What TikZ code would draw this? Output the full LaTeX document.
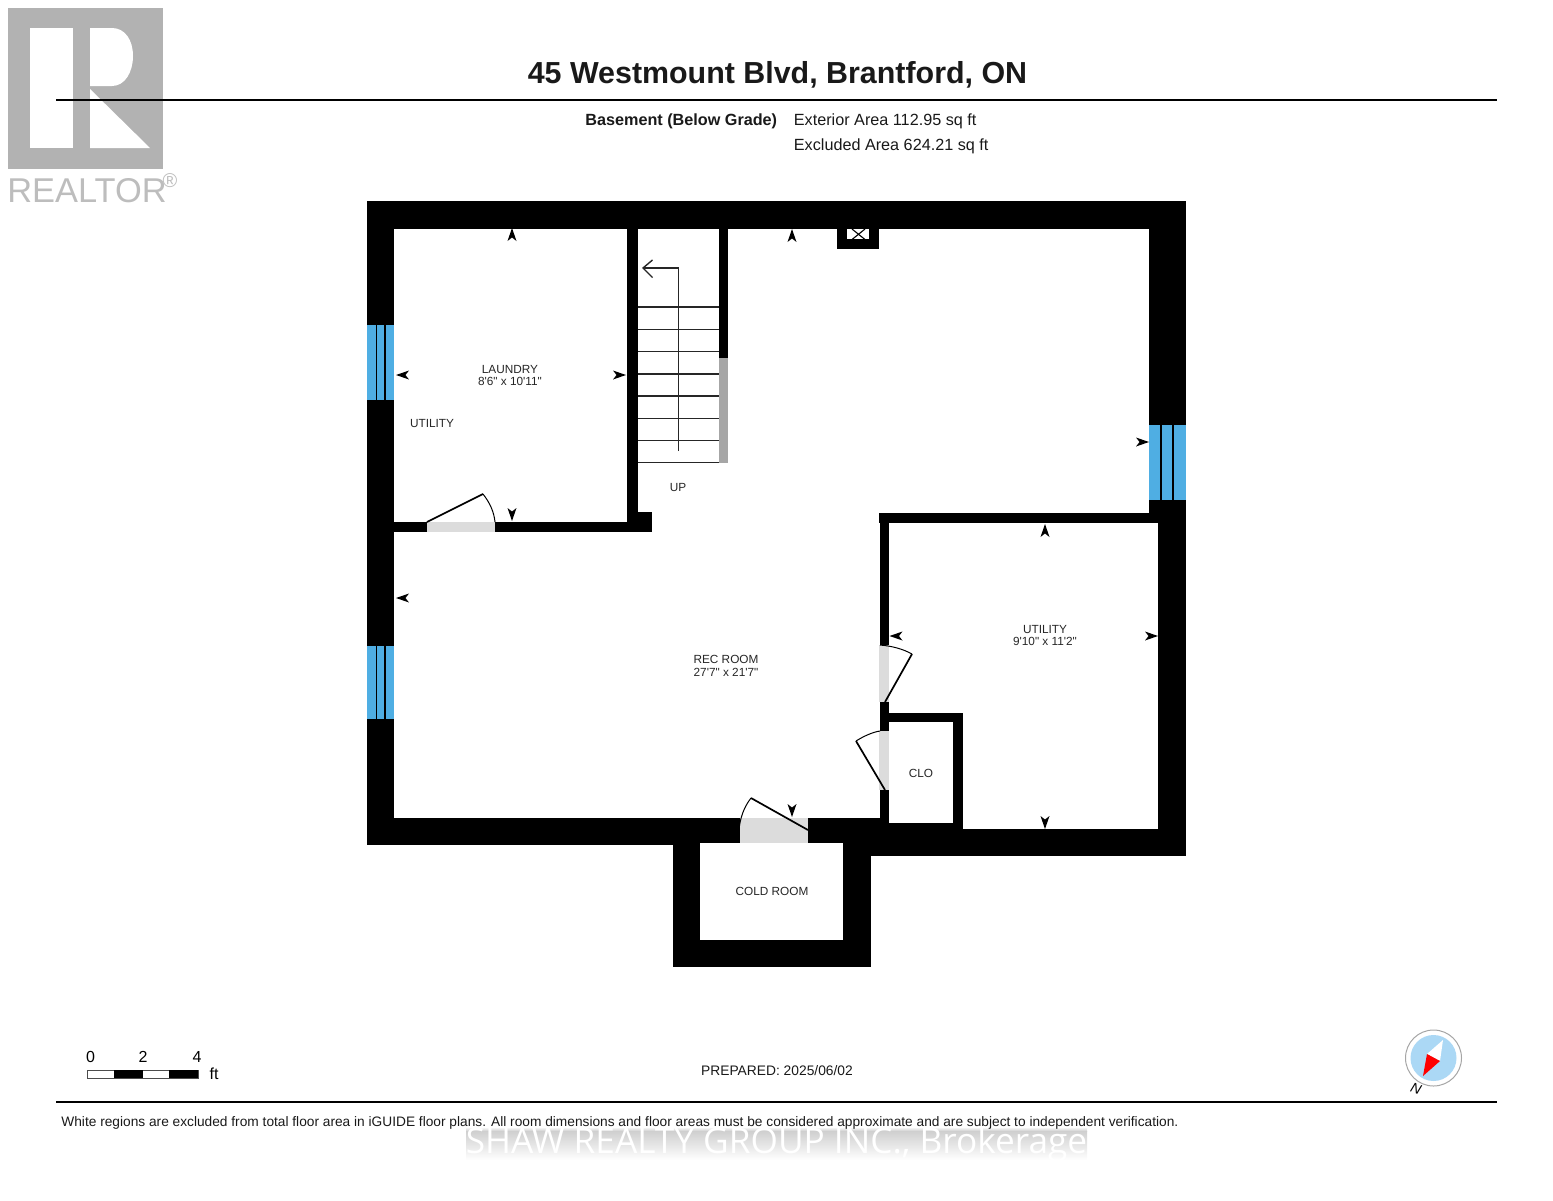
\documentclass[tikz,border=0pt]{standalone}
\usepackage{fontspec}
\setmainfont[Ligatures=TeXOff]{Liberation Sans}
\newfontfamily\wmfont{Open Sans}
\definecolor{winblue}{HTML}{4FAEE3}
\definecolor{doorgrey}{HTML}{DCDCDC}
\definecolor{stairgrey}{HTML}{A6A6A6}
\definecolor{logogrey}{HTML}{B2B2B2}
\definecolor{compassblue}{HTML}{ABD8F5}
\definecolor{wmgrey}{HTML}{CFCFCF}
\newcommand{\winpaneV}[6]{%
  \fill[winblue] (#1,#2) rectangle (#3,#4);
  \draw[thinline] (#5,#2) -- (#5,#4);
  \draw[thinline] (#6,#2) -- (#6,#4);%
}
\newcommand{\dimtick}[3]{%
  \fill[black,shift={(#1,#2)},rotate=#3] (0,0) -- (-13,4.5) -- (-9.5,0) -- (-13,-4.5) -- cycle;%
}
\tikzset{
  x=0.5pt,y=-0.5pt,
  wall/.style={fill=black,draw=none},
  thinline/.style={draw=black,line width=0.55pt},
  stairline/.style={draw=black!85,line width=0.7pt},
  doorleaf/.style={draw=black,line width=0.85pt},
  doorarc/.style={draw=black,line width=0.5pt},
  rule/.style={draw=black,line width=1.4pt},
  room/.style={inner sep=0pt,font=\fontsize{5.9}{6.4}\selectfont,align=center,text=black!85},
  info/.style={inner sep=0pt,font=\fontsize{8.1}{9}\selectfont,anchor=base west,text=black!90},
}
\begin{document}
\begin{tikzpicture}
\useasboundingbox (0,0) rectangle (1553,1200);
% logo
\fill[logogrey] (8,8) rectangle (163,169);
\fill[white] (30,28) rectangle (73,148);
\fill[white] (90,28) -- (112,28) .. controls (125,28) and (133,40) .. (133,56) .. controls (133,72) and (125,86) .. (112,86) -- (90,86) -- cycle;
\fill[white] (90,89) -- (150,148) -- (90,148) -- cycle;
\node[inner sep=0pt,text=logogrey!85,font=\fontsize{17.2}{18}\selectfont] (logotext) at (87,191) {REALTOR};
\node[inner sep=0pt,text=logogrey!85,font=\fontsize{10}{10}\selectfont] (logoreg) at (170,181) {®};
% header
\draw[rule] (56,100) -- (1497,100);
\node[inner sep=0pt,font=\bfseries\fontsize{15.2}{17}\selectfont,text=black!90] (title) at (777.5,75) {45 Westmount Blvd, Brantford, ON};
\node[inner sep=0pt,font=\bfseries\fontsize{8.1}{9}\selectfont,anchor=base west,text=black!90] (floor) at (585,125.5) {Basement (Below Grade)};
\node[info] (ext) at (793.5,125.5) {Exterior Area 112.95 sq ft};
\node[info] (excl) at (793.5,150.5) {Excluded Area 624.21 sq ft};
% outer walls
\fill[wall] (367,201) rectangle (1186,229);
\fill[wall] (367,201) rectangle (394,845);
\fill[wall] (367,818) rectangle (683,845);
\fill[wall] (683,818) rectangle (740,843);
\fill[wall] (808,818) rectangle (889,843);
\fill[wall] (1149,201) rectangle (1186,513);
\fill[wall] (1158,500) rectangle (1186,856);
\fill[wall] (843,829) rectangle (1186,856);
\fill[wall] (843,823) rectangle (963,843);
% cold room
\fill[wall] (673,843) rectangle (700,967);
\fill[wall] (843,843) rectangle (871,967);
\fill[wall] (673,940) rectangle (871,967);
% laundry walls
\fill[wall] (627,229) rectangle (638,532);
\fill[wall] (394,522) rectangle (652,532);
\fill[wall] (638,512) rectangle (652,532);
% stair wall
\fill[wall] (719,229) rectangle (728,358);
\fill[stairgrey] (719,358) rectangle (728,463);
% utility walls
\fill[wall] (879,513) rectangle (1158,523);
\fill[wall] (880,513) rectangle (889,823);
\fill[wall] (889,713) rectangle (963,722);
\fill[wall] (953,713) rectangle (963,829);
% chimney
\fill[wall] (837,229) rectangle (879,249);
\fill[white] (847,229) rectangle (869,239);
\draw[thinline] (852,229) -- (865,239.5) (852,239.5) -- (865,229);
% door openings
\fill[doorgrey] (427,522) rectangle (495,532);
\fill[doorgrey] (740,818) rectangle (808,843);
\fill[doorgrey] (879,645) rectangle (889,702);
\fill[doorgrey] (879,731) rectangle (889,790);
% door leaves
\draw[doorleaf] (427,522) -- (483,494);
\draw[doorarc] (483,494) .. controls (490,503) and (494,512) .. (495,522);
\draw[doorleaf] (808,830) -- (751,798);
\draw[doorarc] (751,798) .. controls (744,807) and (740,818) .. (739,830);
\draw[doorleaf] (885,702) -- (912,654);
\draw[doorarc] (912,654) .. controls (903,649) and (892,646) .. (880,645);
\draw[doorleaf] (885,790) -- (856,741);
\draw[doorarc] (856,741) .. controls (864,736) and (873,732) .. (880,731);
% windows
\winpaneV{367}{325}{394}{400}{376.5}{385}
\winpaneV{367}{646}{394}{719}{376.5}{385}
\winpaneV{1149}{425}{1186}{500}{1161}{1173}
% stairs
\foreach \sy in {307,329.3,351.6,374,396,418.3,440.6,462.5} {\draw[stairline] (638,\sy) -- (719,\sy);}
\draw[stairline] (678.5,451) -- (678.5,268) -- (643,268);
\draw[stairline] (652.5,260) -- (643,268) -- (652.5,277.5);
% measurement ticks
\dimtick{512}{228}{90}
\dimtick{512}{521}{-90}
\dimtick{396}{375}{180}
\dimtick{626}{375}{0}
\dimtick{792}{229}{90}
\dimtick{396}{598}{180}
\dimtick{1149}{442}{0}
\dimtick{792}{817}{-90}
\dimtick{1045}{524}{90}
\dimtick{889.5}{636}{180}
\dimtick{1158}{636}{0}
\dimtick{1045}{829}{-90}
% room labels
\node[room] (laundry) at (510,375.5) {LAUNDRY\\8'6" x 10'11"};
\node[room] (utilb) at (432,423) {UTILITY};
\node[room] (up) at (678,487) {UP};
\node[room] (rec) at (726,665.5) {REC ROOM\\27'7" x 21'7"};
\node[room] (util) at (1045,635.5) {UTILITY\\9'10" x 11'2"};
\node[room] (clo) at (921,773) {CLO};
\node[room] (cold) at (772,891) {COLD ROOM};
% scale bar
\draw[black!70,line width=0.4pt,fill=white] (87,1070) rectangle (198,1078);
\fill[black] (114,1070) rectangle (143,1078);
\fill[black] (169,1070) rectangle (198,1078);
\node[inner sep=0pt,font=\fontsize{8}{9}\selectfont] (s0) at (90.5,1057) {0};
\node[inner sep=0pt,font=\fontsize{8}{9}\selectfont] (s2) at (143,1057) {2};
\node[inner sep=0pt,font=\fontsize{8}{9}\selectfont] (s4) at (197,1057) {4};
\node[inner sep=0pt,font=\fontsize{8}{9}\selectfont] (sft) at (214,1074) {ft};
% prepared
\node[inner sep=0pt,font=\fontsize{6.9}{8}\selectfont,text=black!90] (prep) at (777,1071) {PREPARED: 2025/06/02};
% compass
\draw[black!35,fill=white,line width=0.5pt] (1433.5,1058) circle (28);
\fill[compassblue] (1433.5,1058) circle (23);
\fill[white] (1427,1054) -- (1443,1040) -- (1440,1061) -- cycle;
\fill[red] (1423,1076) -- (1427,1054) -- (1440,1061) -- cycle;
\node[inner sep=0pt,rotate=-20,font=\itshape\fontsize{7}{8}\selectfont] (north) at (1416,1089) {N};
% footer
\draw[rule] (56,1102) -- (1497,1102);
\shade[top color=white,bottom color=wmgrey,draw=none] (466,1127) rectangle (1087,1131);
\shade[top color=wmgrey,bottom color=white,draw=none] (466,1131) rectangle (1087,1160);
\node[inner sep=0pt,anchor=base west,font=\fontsize{6.86}{8}\selectfont,text=black!90] (note) at (61,1126) {White regions are excluded from total floor area in iGUIDE floor plans. All room dimensions and floor areas must be considered approximate and are subject to independent verification.};
\node[inner sep=0pt,font=\wmfont\fontsize{17.6}{19}\selectfont,text=white] (wm) at (776.5,1144) {SHAW REALTY GROUP INC., Brokerage};
\end{tikzpicture}
\end{document}
